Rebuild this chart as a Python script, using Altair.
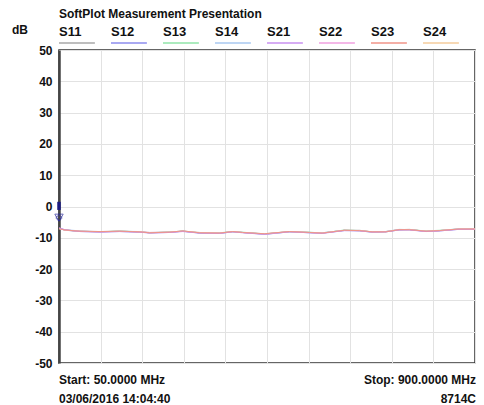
import altair as alt
import pandas as pd

series_names = ["S11", "S12", "S13", "S14", "S21", "S22", "S23", "S24"]
series_colors = ["#a8a8a8", "#8c8cee", "#90e4a8", "#a8c8f0", "#c890f0", "#f0a0e0", "#f09488", "#f5cc9c"]
top_series = ["S21", "S23"]

freq_mhz = [50, 62, 93, 134, 174, 215, 235, 276, 303, 337, 378, 405, 425, 470, 521,
            562, 588, 633, 664, 690, 718, 745, 766, 800, 827, 867, 900]

values = {
    "S11": [-7.0, -7.6, -7.9, -8.0, -7.9, -8.1, -8.3, -8.2, -7.8, -8.4, -8.5, -8.0, -8.3, -8.7, -8.0, -8.3, -8.4, -7.6, -7.6, -8.1, -8.0, -7.4, -7.3, -7.9, -7.7, -7.2, -7.1],
    "S12": [-6.9, -7.5, -8.0, -8.1, -8.0, -8.2, -8.4, -8.3, -7.9, -8.5, -8.6, -8.1, -8.3, -8.9, -8.1, -8.4, -8.5, -7.7, -7.7, -8.2, -8.1, -7.5, -7.4, -8.0, -7.8, -7.3, -7.2],
    "S13": [-7.1, -7.5, -7.9, -8.1, -7.8, -8.1, -8.4, -8.1, -7.9, -8.4, -8.4, -8.0, -8.2, -8.8, -8.0, -8.2, -8.5, -7.5, -7.7, -8.1, -8.0, -7.4, -7.4, -7.8, -7.6, -7.2, -7.2],
    "S14": [-7.0, -7.4, -7.8, -8.1, -7.9, -8.0, -8.4, -8.2, -7.9, -8.3, -8.5, -8.1, -8.3, -8.8, -8.1, -8.3, -8.4, -7.6, -7.8, -8.2, -8.0, -7.3, -7.4, -7.9, -7.7, -7.1, -7.2],
    "S21": [-6.8, -7.4, -8.0, -8.2, -8.0, -8.2, -8.5, -8.3, -8.0, -8.5, -8.6, -8.1, -8.4, -8.9, -8.1, -8.4, -8.6, -7.7, -7.8, -8.2, -8.1, -7.5, -7.5, -8.0, -7.8, -7.3, -7.3],
    "S22": [-7.0, -7.6, -7.9, -8.1, -7.9, -8.1, -8.3, -8.2, -7.9, -8.4, -8.5, -8.0, -8.3, -8.8, -8.0, -8.3, -8.5, -7.6, -7.7, -8.1, -8.0, -7.4, -7.4, -7.9, -7.7, -7.2, -7.2],
    "S23": [-7.1, -7.5, -7.9, -8.0, -7.9, -8.1, -8.4, -8.2, -7.8, -8.4, -8.5, -8.0, -8.3, -8.7, -8.0, -8.3, -8.5, -7.6, -7.7, -8.1, -8.1, -7.4, -7.4, -7.9, -7.7, -7.2, -7.2],
    "S24": [-7.0, -7.5, -7.9, -8.1, -7.9, -8.1, -8.4, -8.2, -7.9, -8.3, -8.5, -8.05, -8.3, -8.8, -8.05, -8.3, -8.5, -7.6, -7.7, -8.15, -8.05, -7.4, -7.4, -7.9, -7.7, -7.2, -7.2],
}

y_ticks = [-50, -40, -30, -20, -10, 0, 10, 20, 30, 40, 50]
x_grid = [50, 135, 220, 305, 390, 475, 560, 645, 730, 815, 900]

ref_freq = [50]
ref_lo = [-1.1]
ref_hi = [1.5]
marker_db = [-3.6]

title_text = "SoftPlot Measurement Presentation"
unit_text = "dB"
start_text = "Start: 50.0000 MHz"
stop_text = "Stop: 900.0000 MHz"
date_text = "03/06/2016 14:04:40"
model_text = "8714C"

FONT = "Liberation Sans"
W, H = 416, 313

rows = []
for s in series_names:
    for f, v in zip(freq_mhz, values[s]):
        rows.append({"series": s, "freq": f, "db": v})
df = pd.DataFrame(rows)
df_under = df[~df["series"].isin(top_series)]
df_over = df[df["series"].isin(top_series)]

xscale = alt.Scale(domain=[50, 900], nice=False, zero=False)
yscale = alt.Scale(domain=[-50, 50], nice=False, zero=False)
cscale = alt.Scale(domain=series_names, range=series_colors)

yaxis = alt.Axis(values=y_ticks, ticks=False, labelPadding=7, title=None,
                 labelExpr="datum.value + ''", labelOverlap=False,
                 labelFont=FONT, labelFontSize=12, labelFontWeight="bold",
                 labelColor="#111", domain=True, domainColor="#444", domainWidth=2.5,
                 grid=True, gridColor="#e2e2e2", gridWidth=1)
xaxis = alt.Axis(values=x_grid, labels=False, ticks=False, domain=False, title=None,
                 grid=True, gridColor="#e2e2e2", gridWidth=1)

def trace_layer(data):
    return alt.Chart(data).mark_line(strokeWidth=1, clip=True).encode(
        x=alt.X("freq:Q", scale=xscale, axis=xaxis),
        y=alt.Y("db:Q", scale=yscale, axis=yaxis),
        color=alt.Color("series:N", scale=cscale, legend=None),
    )

lines_under = trace_layer(df_under)
lines_over = trace_layer(df_over)

ref_df = pd.DataFrame({"freq": ref_freq, "lo": ref_lo, "hi": ref_hi})
ref_bar = alt.Chart(ref_df).mark_rule(color="#1a1a80", strokeWidth=3.5).encode(
    x=alt.X("freq:Q", scale=xscale, axis=None),
    y=alt.Y("lo:Q", scale=yscale, axis=yaxis),
    y2="hi:Q",
)

mk_df = pd.DataFrame({"freq": ref_freq, "db": marker_db})
marker = alt.Chart(mk_df).mark_point(shape="triangle-down", size=70, filled=False,
                                      color="#2a2a9a", strokeWidth=1).encode(
    x=alt.X("freq:Q", scale=xscale, axis=None),
    y=alt.Y("db:Q", scale=yscale, axis=yaxis),
)
marker_cross = alt.Chart(mk_df).mark_point(shape="cross", size=30, filled=False,
                                            color="#2a2a9a", strokeWidth=0.8).encode(
    x=alt.X("freq:Q", scale=xscale, axis=None),
    y=alt.Y("db:Q", scale=yscale, axis=yaxis),
)

leg_df = pd.DataFrame({"series": series_names, "idx": list(range(len(series_names)))})
leg_df["idx2"] = leg_df["idx"] + 0.69
lscale = alt.Scale(domain=[0, 8], nice=False, zero=False)

leg_text = alt.Chart(leg_df).mark_text(align="left", baseline="middle", font=FONT,
                                        fontSize=13, fontWeight="bold", color="#111").encode(
    x=alt.X("idx:Q", scale=lscale, axis=None),
    y=alt.value(-18),
    text="series:N",
)
leg_line = alt.Chart(leg_df).mark_rule(strokeWidth=1.5).encode(
    x=alt.X("idx:Q", scale=lscale, axis=None),
    x2="idx2:Q",
    y=alt.value(-7),
    color=alt.Color("series:N", scale=cscale, legend=None),
)

def label(txt, x, y, align="left", size=12, weight="bold"):
    return alt.Chart(pd.DataFrame({"t": [txt]})).mark_text(
        align=align, baseline="middle", font=FONT, fontSize=size, fontWeight=weight, color="#111"
    ).encode(x=alt.value(x), y=alt.value(y), text="t:N")

texts = [
    label(title_text, 0, -36, size=12),
    label(unit_text, -47, -20, size=12),
    label(start_text, 0, 330, size=12),
    label(date_text, 0, 349, size=12),
    label(stop_text, W + 1, 330, align="right", size=12),
    label(model_text, W + 1, 349, align="right", size=12),
]

chart = alt.layer(lines_under, lines_over, ref_bar, marker, marker_cross, leg_line, leg_text,
                  *texts).resolve_scale(
    x="independent"
).properties(
    width=W, height=H,
    autosize=alt.AutoSizeParams(type="none"),
    padding={"left": 51, "top": 42, "right": 1, "bottom": 50},
).configure_view(
    stroke="#333", strokeWidth=1.5
).configure_axis(labelOverlap=False)

chart.save("out.html", embed_options={"renderer": "svg", "actions": False})
